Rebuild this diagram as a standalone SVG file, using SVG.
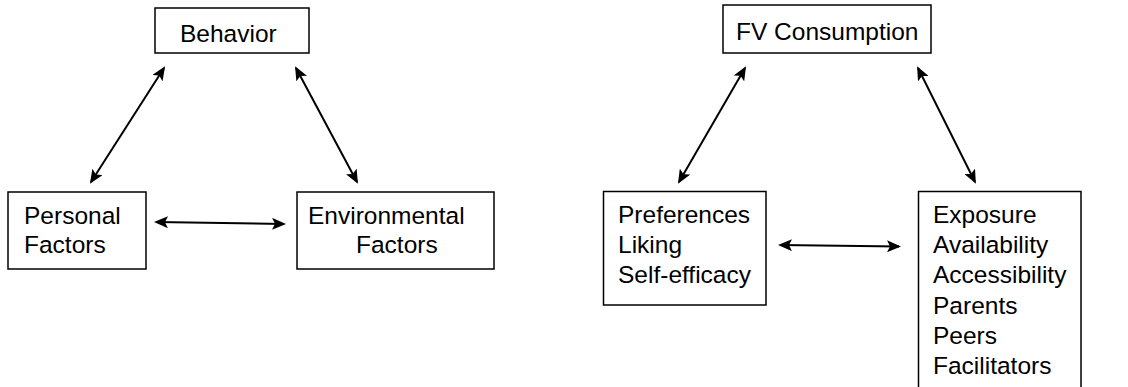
<svg xmlns="http://www.w3.org/2000/svg" width="1128" height="387" viewBox="0 0 1128 387">
<style>
.box{fill:#fff;stroke:#000;stroke-width:1.5}
.t{font-family:"Liberation Sans",Arial,sans-serif;font-size:24.5px;fill:#000}
.c{stroke:#000;stroke-width:2;fill:none;marker-start:url(#ah);marker-end:url(#ah)}
</style>
<defs>
<marker id="ah" markerUnits="userSpaceOnUse" viewBox="0 0 14 12" refX="12" refY="6" markerWidth="14" markerHeight="12" orient="auto-start-reverse">
<path d="M0,0 L14,6 L0,12 L3,6 z" fill="#000"/>
</marker>
</defs>
<rect width="1128" height="387" fill="#fff"/>
<g id="behavior"><rect class="box" x="155" y="8" width="154" height="45"/><text class="t" x="180" y="42">Behavior</text></g>
<g id="personal"><rect class="box" x="8" y="192" width="138" height="77"/><text class="t" x="24" y="224">Personal</text><text class="t" x="24" y="253">Factors</text></g>
<g id="environmental"><rect class="box" x="297" y="192" width="197" height="77"/><text class="t" x="308" y="224">Environmental</text><text class="t" x="356" y="253">Factors</text></g>
<g id="fv"><rect class="box" x="723" y="5" width="208" height="48"/><text class="t" x="736" y="39.5">FV Consumption</text></g>
<g id="prefs"><rect class="box" x="603.5" y="191.5" width="162.5" height="113.5"/><text class="t" x="618" y="223">Preferences</text><text class="t" x="618" y="253">Liking</text><text class="t" x="618" y="283">Self-efficacy</text></g>
<g id="env2"><rect class="box" x="918.5" y="191.5" width="162.5" height="210"/><text class="t" x="933" y="223">Exposure</text><text class="t" x="933" y="253">Availability</text><text class="t" x="933" y="283">Accessibility</text><text class="t" x="933" y="313.5">Parents</text><text class="t" x="933" y="343.5">Peers</text><text class="t" x="933" y="373.5">Facilitators</text></g>
<g id="connectors">
<line class="c" x1="164" y1="68" x2="91" y2="182"/>
<line class="c" x1="296" y1="68" x2="357" y2="182"/>
<line class="c" x1="156" y1="222" x2="284" y2="224"/>
<line class="c" x1="745" y1="68" x2="679" y2="182"/>
<line class="c" x1="918" y1="68" x2="975" y2="182"/>
<line class="c" x1="780" y1="245" x2="899" y2="246.5"/>
</g>
</svg>
